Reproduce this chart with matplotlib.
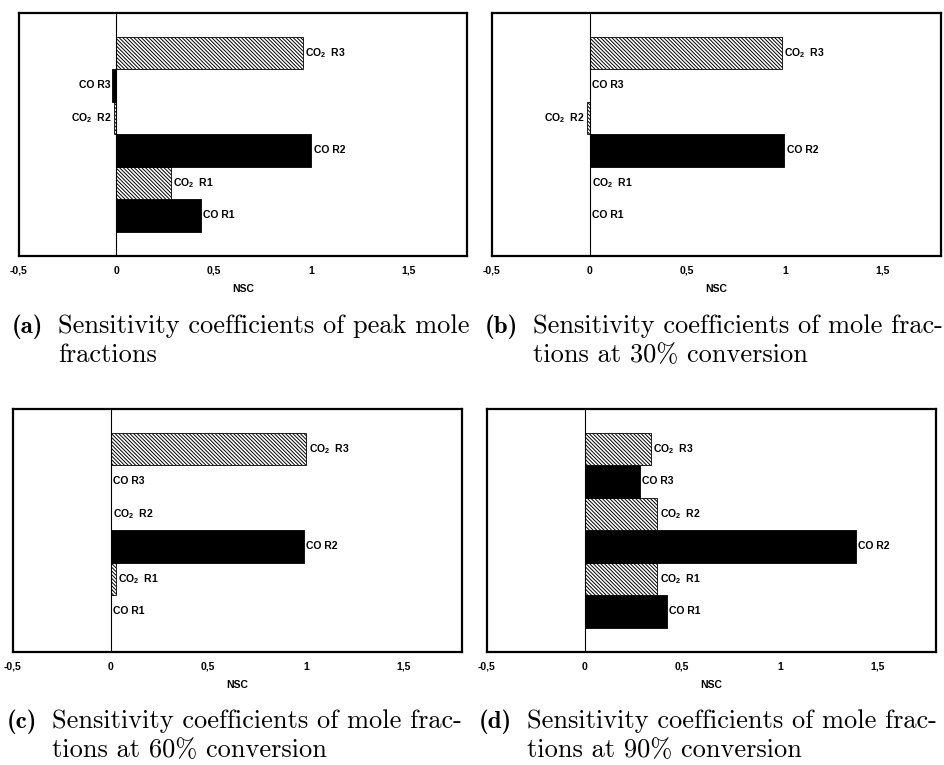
import matplotlib
matplotlib.use("Agg")
import matplotlib.pyplot as plt

plt.rcParams['mathtext.fontset'] = 'custom'
plt.rcParams['mathtext.rm'] = 'Liberation Sans:bold'
plt.rcParams['mathtext.it'] = 'Liberation Sans:bold'
plt.rcParams['mathtext.bf'] = 'Liberation Sans:bold'
plt.rcParams['hatch.linewidth'] = 0.7

# ---------------- data ----------------
categories = ['CO R1', 'CO$_2$  R1', 'CO R2', 'CO$_2$  R2', 'CO R3', 'CO$_2$  R3']
is_co2 = [False, True, False, True, False, True]

nsc_peak = [0.435, 0.279, 1.0, -0.012, -0.02, 0.957]
nsc_30 = [0.0, 0.0, 0.997, -0.015, 0.0, 0.986]
nsc_60 = [0.0, 0.026, 0.99, 0.0, 0.0, 1.003]
nsc_90 = [0.42, 0.372, 1.391, 0.372, 0.282, 0.338]

tick_values = [-0.5, 0, 0.5, 1, 1.5]
tick_labels = ['-0,5', '0', '0,5', '1', '1,5']

caption_tags = ['(a)', '(b)', '(c)', '(d)']
caption_line1 = ['Sensitivity coefficients of peak mole',
                 'Sensitivity coefficients of mole frac-',
                 'Sensitivity coefficients of mole frac-',
                 'Sensitivity coefficients of mole frac-']
caption_line2 = ['fractions',
                 'tions at 30% conversion',
                 'tions at 60% conversion',
                 'tions at 90% conversion']

# ---------------- layout ----------------
W, H = 945, 765
fig = plt.figure(figsize=(W / 100, H / 100), dpi=100)

def px_rect(l, t, r, b):
    return [l / W, 1 - b / H, (r - l) / W, (b - t) / H]

axes_px = [(19, 13, 467, 256), (492, 13, 941, 256),
           (13, 409, 462, 652), (487, 409, 936, 652)]
caption_px = [(12, 58, 333), (485, 533, 333), (7, 52, 728), (479, 527, 728)]

datasets = [nsc_peak, nsc_30, nsc_60, nsc_90]
lab_font = dict(family='Liberation Sans', weight='bold', size=7.5)
hatch_pat = '\\' * 9

for k, (vals, rect) in enumerate(zip(datasets, axes_px)):
    ax = fig.add_axes(px_rect(*rect))
    ypos = list(range(len(categories)))
    for y, v, co2 in zip(ypos, vals, is_co2):
        if co2:
            ax.barh(y, v, height=1.0, color='white', edgecolor='black',
                    hatch=hatch_pat, linewidth=0.6)
        else:
            ax.barh(y, v, height=1.0, color='black', edgecolor='black',
                    linewidth=0.6)
    for y, v, lab in zip(ypos, vals, categories):
        if v < 0:
            ax.text(v - 0.012, y, lab, ha='right', va='center', **lab_font)
        else:
            ax.text(v + 0.012, y, lab, ha='left', va='center', **lab_font)
    ax.axvline(0, color='black', linewidth=0.8)
    ax.set_xlim(-0.5, 1.8)
    ax.set_ylim(-1.25, 6.23)
    ax.set_yticks([])
    ax.set_xticks(tick_values)
    ax.set_xticklabels(tick_labels, **lab_font)
    ax.tick_params(axis='x', length=0, pad=7)
    ax.set_xlabel('NSC', labelpad=6, **lab_font)
    for s in ax.spines.values():
        s.set_linewidth(1.6)

    tx, sx, base = caption_px[k]
    fig.text(tx / W, 1 - base / H, caption_tags[k], family='cmb10',
             size=18, va='baseline', ha='left')
    fig.text(sx / W, 1 - base / H, caption_line1[k], family='cmr10',
             size=19, va='baseline', ha='left')
    fig.text(sx / W, 1 - (base + 29) / H, caption_line2[k], family='cmr10',
             size=19, va='baseline', ha='left')

fig.savefig('out.png', dpi=100)
